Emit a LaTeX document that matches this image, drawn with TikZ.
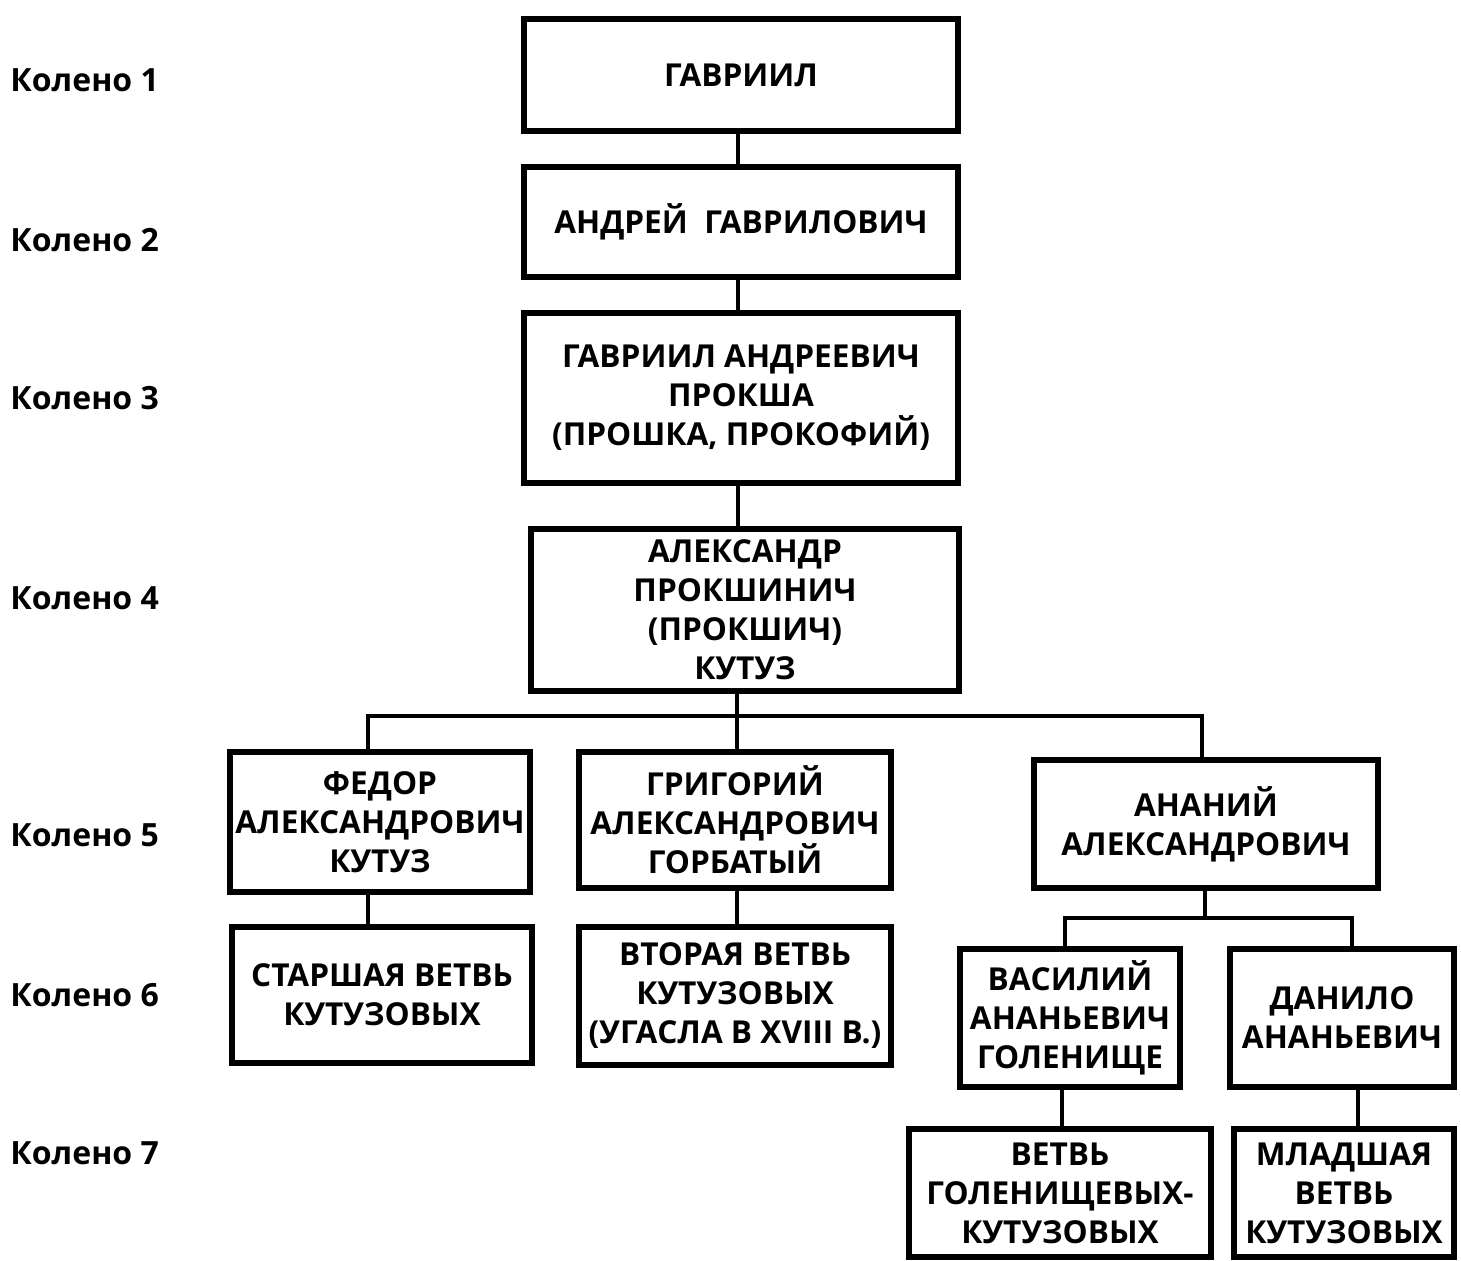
\documentclass[tikz,border=0pt]{standalone}
\usepackage{fontspec}
\setmainfont{Open Sans}
\begin{document}
\begin{tikzpicture}[x=0.5pt,y=-0.5pt,
  box/.style={draw,line width=2.6pt,align=center,inner sep=0pt,
    font=\fontsize{15.8}{19.5}\selectfont\bfseries},
  lvl/.style={anchor=west,inner sep=0pt,font=\fontsize{16}{19.5}\selectfont\bfseries},
  conn/.style={line width=2.3pt}]
\useasboundingbox (0,0) rectangle (1461,1260);
% level labels
\node[lvl] (k1) at (10,80) {Колено 1};
\node[lvl] (k2) at (10,240) {Колено 2};
\node[lvl] (k3) at (10,398) {Колено 3};
\node[lvl] (k4) at (10,598) {Колено 4};
\node[lvl] (k5) at (10,835) {Колено 5};
\node[lvl] (k6) at (10,995) {Колено 6};
\node[lvl] (k7) at (10,1153) {Колено 7};
% boxes
\node[box,minimum width=217pt,minimum height=56pt] (g1) at (741,75) {ГАВРИИЛ};
\node[box,minimum width=217pt,minimum height=55pt] (g2) at (741,222) {АНДРЕЙ\ \ ГАВРИЛОВИЧ};
\node[box,minimum width=217pt,minimum height=85pt] (g3) at (741,398) {ГАВРИИЛ АНДРЕЕВИЧ\\ПРОКША\\(ПРОШКА, ПРОКОФИЙ)};
\node[box,minimum width=214pt,minimum height=81pt] (g4) at (745,610) {АЛЕКСАНДР\\ПРОКШИНИЧ\\(ПРОКШИЧ)\\КУТУЗ};
\node[box,minimum width=150pt,minimum height=70pt] (g5a) at (380,822) {ФЕДОР\\АЛЕКСАНДРОВИЧ\\КУТУЗ};
\node[box,minimum width=156pt,minimum height=68pt] (g5b) at (735,820) {ГРИГОРИЙ\\АЛЕКСАНДРОВИЧ\\ГОРБАТЫЙ};
\node[box,minimum width=172pt,minimum height=64pt] (g5c) at (1206,824) {АНАНИЙ\\АЛЕКСАНДРОВИЧ};
\node[box,minimum width=150pt,minimum height=68pt] (g6a) at (382,995) {СТАРШАЯ ВЕТВЬ\\КУТУЗОВЫХ};
\node[box,minimum width=156pt,minimum height=69pt] (g6b) at (735,996) {ВТОРАЯ ВЕТВЬ\\КУТУЗОВЫХ\\(УГАСЛА В XVIII В.)};
\node[box,minimum width=110pt,minimum height=69pt] (g6c) at (1070,1018) {ВАСИЛИЙ\\АНАНЬЕВИЧ\\ГОЛЕНИЩЕ};
\node[box,minimum width=112pt,minimum height=69pt] (g6d) at (1342,1018) {ДАНИЛО\\АНАНЬЕВИЧ};
\node[box,minimum width=151pt,minimum height=64pt] (g7a) at (1060,1193) {ВЕТВЬ\\ГОЛЕНИЩЕВЫХ-\\КУТУЗОВЫХ};
\node[box,minimum width=110pt,minimum height=64pt] (g7b) at (1344,1193) {МЛАДШАЯ\\ВЕТВЬ\\КУТУЗОВЫХ};
% connector points
\coordinate (c1) at (738,0);
\coordinate (bL) at (368,716);
\coordinate (bM) at (737,716);
\coordinate (bR) at (1202,716);
\coordinate (c5a) at (368,0);
\coordinate (c5b) at (737,0);
\coordinate (d5c) at (1205,0);
\coordinate (b2L) at (1065,918);
\coordinate (b2R) at (1352,918);
\coordinate (c6c) at (1062,0);
\coordinate (c6d) at (1358,0);
% connectors
\draw[conn] (c1 |- g1.south) -- (c1 |- g2.north);
\draw[conn] (c1 |- g2.south) -- (c1 |- g3.north);
\draw[conn] (c1 |- g3.south) -- (c1 |- g4.north);
\draw[conn] (bM |- g4.south) -- (bM);
\draw[conn] (bL |- g5a.north) -- (bL) -- (bR) -- (bR |- g5c.north);
\draw[conn] (bM) -- (bM |- g5b.north);
\draw[conn] (c5a |- g5a.south) -- (c5a |- g6a.north);
\draw[conn] (c5b |- g5b.south) -- (c5b |- g6b.north);
\draw[conn] (d5c |- g5c.south) -- (d5c |- b2L);
\draw[conn] (b2L |- g6c.north) -- (b2L) -- (b2R) -- (b2R |- g6d.north);
\draw[conn] (c6c |- g6c.south) -- (c6c |- g7a.north);
\draw[conn] (c6d |- g6d.south) -- (c6d |- g7b.north);
\end{tikzpicture}
\end{document}
